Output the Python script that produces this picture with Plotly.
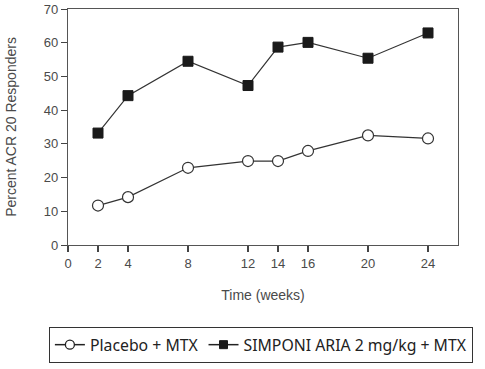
import plotly.graph_objects as go

weeks = [2, 4, 8, 12, 14, 16, 20, 24]
placebo = [11.7, 14.2, 22.9, 24.9, 24.9, 27.9, 32.5, 31.6]
simponi = [33.2, 44.3, 54.5, 47.3, 58.7, 60.1, 55.4, 62.9]
x_ticks = [0, 2, 4, 8, 12, 14, 16, 20, 24]
y_ticks = [0, 10, 20, 30, 40, 50, 60, 70]
names = ["Placebo + MTX", "SIMPONI ARIA 2 mg/kg + MTX"]

LINE = "#333333"
fig = go.Figure()
fig.add_trace(go.Scatter(
    x=weeks, y=placebo, mode="lines+markers", name=names[0], showlegend=False,
    line=dict(color=LINE, width=1.2),
    marker=dict(symbol="circle", size=11, color="white", line=dict(color=LINE, width=1.2)),
))
fig.add_trace(go.Scatter(
    x=weeks, y=simponi, mode="lines+markers", name=names[1], showlegend=False,
    line=dict(color=LINE, width=1.2),
    marker=dict(symbol="square", size=10, color="#1a1a1a", line=dict(color="#1a1a1a", width=1)),
))
# legend entries (smaller symbols, as in the reference legend)
fig.add_trace(go.Scatter(
    x=[None], y=[None], mode="lines+markers", name=names[0],
    line=dict(color="#222222", width=1.5),
    marker=dict(symbol="circle", size=9, color="white", line=dict(color="#222222", width=1.3)),
))
fig.add_trace(go.Scatter(
    x=[None], y=[None], mode="lines+markers", name=names[1],
    line=dict(color="#222222", width=1.5),
    marker=dict(symbol="square", size=8, color="#1a1a1a", line=dict(color="#1a1a1a", width=1)),
))

tick_font = dict(family="Liberation Sans", size=13, color="#4a4a4a")
title_font = dict(family="Liberation Sans", size=14, color="#4a4a4a")
fig.update_layout(
    width=485, height=369,
    margin=dict(l=68, r=27, t=9, b=124, autoexpand=False),
    paper_bgcolor="white", plot_bgcolor="white",
    showlegend=True,
    legend=dict(
        orientation="h", x=-0.049, y=-0.347, xanchor="left", yanchor="top",
        bordercolor="#333333", borderwidth=1,
        font=dict(family="Noto Sans", size=15.8, color="#222222"),
        itemwidth=30, tracegroupgap=0,
    ),
    xaxis=dict(
        range=[0, 26], tickvals=x_ticks, ticktext=[str(t) for t in x_ticks],
        showgrid=False, zeroline=False, showline=True, linecolor="#555555", linewidth=1.2,
        mirror=True, ticks="outside", ticklen=6, tickwidth=1.5, tickcolor="#444444",
        tickfont=tick_font, automargin=False,
        title=dict(text="Time (weeks)", font=title_font, standoff=20),
    ),
    yaxis=dict(
        range=[0, 70], tickvals=y_ticks,
        showgrid=False, zeroline=False, showline=True, linecolor="#555555", linewidth=1.2,
        mirror=True, ticks="outside", ticklen=6, tickwidth=1.2, tickcolor="#444444",
        tickfont=tick_font, automargin=False,
        title=dict(text="Percent ACR 20 Responders", font=title_font, standoff=23),
    ),
)
fig.write_html("out.html", config={"displayModeBar": False},
               post_script="document.body.style.margin='0';")
